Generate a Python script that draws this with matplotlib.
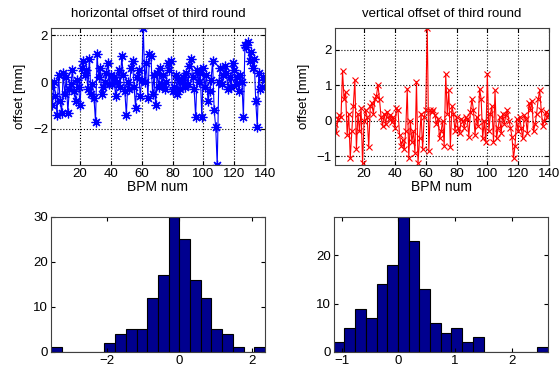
import matplotlib.pyplot as plt
import numpy as np

# ==============================================================
# data
bpm = np.arange(1, 141)

h_offset = [
    -0.2, -1.0, 0.0, -0.6, -1.4, 0.3, -0.8, -1.3, 0.4, -0.5,
    0.2, -1.3, -0.3, -0.1, 0.5, -0.4, -0.8, 0.1, -0.2, -1.0,
    0.6, 0.9, 0.3, 0.5, -0.3, 1.0, -0.5, -0.1, -0.7, -1.7,
    1.2, 0.2, 0.6, -0.5, -0.2, 0.0, 0.4, 0.8, -0.1, 0.3,
    -0.1, 0.2, -0.6, 0.0, 0.5, -0.2, 1.1, 0.3, -0.4, -1.4,
    0.0, -0.3, 0.6, 0.9, -0.2, -1.1, 0.2, 0.5, -0.6, 0.1,
    2.3, 0.0, 0.8, -0.7, 1.2, 1.1, -0.5, 0.3, -1.0, 0.4,
    -0.2, 0.6, -0.1, 0.3, -0.3, 0.0, 0.8, 0.5, 0.9, -0.4,
    -0.2, 0.3, -0.5, 0.1, -0.3, 0.0, 0.2, -0.2, 0.4, -0.1,
    0.7, 1.0, 0.2, -0.3, -1.5, 0.5, 0.0, 0.4, -1.5, 0.6,
    -0.2, 0.3, -0.8, -0.4, 0.1, 0.9, -1.2, -1.9, -3.55, 0.0,
    0.6, -0.1, 0.3, 0.7, 0.4, -0.3, 0.2, -0.2, 0.8, 0.5,
    -0.1, 0.2, -0.4, 0.3, 0.0, -1.5, 1.6, 1.5, 1.7, 0.9,
    1.3, 0.6, 1.0, -0.8, -1.9, 0.4, -0.3, -0.2, 0.2, 0.1,
]

v_offset = [
    -0.1, -0.35, 0.05, 0.15, 0.1, 1.4, 0.6, 0.8, -0.4, 0.2,
    -1.05, -0.3, 0.4, 1.15, -0.8, 0.2, -0.3, 0.35, -1.2, 0.0,
    0.3, 0.1, -0.75, 0.4, 0.5, 0.2, 0.6, 0.7, 1.0, 0.6,
    0.1, -0.15, 0.2, -0.1, 0.25, 0.05, 0.15, -0.05, 0.1, -0.2,
    0.35, 0.3, -0.4, -0.7, -0.55, -0.8, -0.3, 0.9, -1.05, 0.0,
    -0.6, -0.3, -0.9, 1.1, -1.2, -0.5, 0.2, -0.8, 0.1, 0.3,
    2.6, -0.85, 0.3, 0.25, 0.3, 0.15, -0.1, 0.05, -0.5, -0.3,
    0.0, -0.7, 1.3, 0.2, 0.85, -0.75, 0.4, 0.2, -0.3, 0.1,
    -0.2, -0.35, 0.05, 0.0, -0.2, 0.1, 0.05, -0.45, 0.25, 0.6,
    0.3, -0.4, 0.1, -0.15, 0.9, 0.6, -0.5, 0.0, -0.6, 1.3,
    -0.3, 0.2, 0.4, -0.6, 0.85, -0.5, -0.2, 0.1, -0.35, 0.2,
    -0.1, 0.15, 0.3, 0.0, -0.2, -0.45, -1.05, -0.7, 0.05, -0.3,
    0.1, -0.2, -0.5, 0.15, 0.05, -0.35, 0.5, 0.3, 0.55, -0.3,
    -0.1, 0.2, 0.6, 0.85, 0.3, -0.15, 0.0, 0.25, 0.1, 0.2,
]

# histogram counts (20 bins) and bin ranges
h_counts = [1, 0, 0, 0, 0, 2, 4, 5, 5, 12, 17, 30, 25, 16, 12, 5, 4, 1, 0, 1]
h_range = (-3.55, 2.36)
v_counts = [2, 5, 9, 7, 14, 18, 28, 23, 13, 6, 4, 5, 2, 3, 0, 0, 0, 0, 0, 1]
v_range = (-1.14, 2.64)

# ==============================================================
plt.rcParams['font.family'] = ['Liberation Sans', 'DejaVu Sans']
plt.rcParams['font.size'] = 9.5

fig = plt.figure(figsize=(5.59, 3.72), dpi=100)

ax1 = fig.add_axes([0.091, 0.556, 0.383, 0.368])
ax2 = fig.add_axes([0.599, 0.556, 0.383, 0.368])
ax3 = fig.add_axes([0.091, 0.054, 0.383, 0.363])
ax4 = fig.add_axes([0.597, 0.054, 0.383, 0.363])


def style_axes(ax):
    ax.tick_params(direction='in', top=True, right=True, length=3, labelsize=9.5, pad=2)
    for sp in ax.spines.values():
        sp.set_linewidth(0.8)
        sp.set_color('#404040')


# matlab-like '*' marker: asterisk with 8 arms
asterisk = (8, 2, 0)

# top: offsets along the ring
ax1.plot(bpm, h_offset, '-', marker=asterisk, color='blue', linewidth=0.8,
         markersize=7, markeredgewidth=0.9)
ax1.set_xlim(1, 140)
ax1.set_ylim(min(h_offset), max(h_offset))
ax1.set_xticks(np.arange(20, 141, 20))
ax1.set_yticks([-2, 0, 2])
ax1.set_title('horizontal offset of third round', fontsize=9.5, pad=8)
ax1.set_xlabel('BPM num', fontsize=10, labelpad=0)
ax1.set_ylabel('offset [mm]', fontsize=9.5, labelpad=5)

ax2.plot(bpm, v_offset, '-x', color='red', linewidth=0.8, markersize=4.5, markeredgewidth=0.8)
ax2.set_xlim(1, 140)
ax2.set_ylim(min(v_offset) - 0.05, max(v_offset))
ax2.set_xticks(np.arange(20, 141, 20))
ax2.set_yticks([-1, 0, 1, 2])
ax2.set_title('vertical offset of third round', fontsize=9.5, pad=8)
ax2.set_xlabel('BPM num', fontsize=10, labelpad=0)
ax2.set_ylabel('offset [mm]', fontsize=9.5, labelpad=5)

for ax in (ax1, ax2):
    ax.grid(True, linestyle=':', color='black', linewidth=0.8)
    style_axes(ax)

# bottom: histograms
for ax, counts, rng in ((ax3, h_counts, h_range), (ax4, v_counts, v_range)):
    edges = np.linspace(rng[0], rng[1], len(counts) + 1)
    ax.bar(edges[:-1], counts, width=np.diff(edges), align='edge',
           color='#00008f', edgecolor='black', linewidth=0.8)
    ax.set_xlim(rng)
    style_axes(ax)

ax3.set_ylim(0, 30)
ax3.set_yticks([0, 10, 20, 30])
ax3.set_xticks([-2, 0, 2])
ax4.set_ylim(0, 28)
ax4.set_yticks([0, 10, 20])
ax4.set_xticks([-1, 0, 1, 2])

fig.savefig('out.png', dpi=100)
